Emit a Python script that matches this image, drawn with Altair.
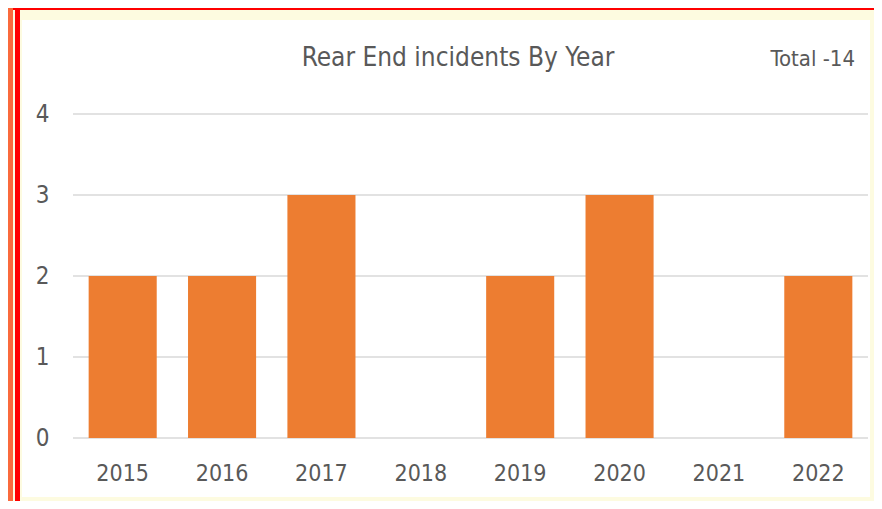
import altair as alt
import pandas as pd

years = ["2015", "2016", "2017", "2018", "2019", "2020", "2021", "2022"]
counts = [2, 2, 3, 0, 2, 3, 0, 2]
grid_values = [0, 1, 2, 3, 4]
title_text = "Rear End incidents By Year"
total_text = "Total -14"

FONT = "Liberation Sans Narrow, DejaVu Sans Condensed, Roboto, sans-serif"
TXT = "#595959"
W, H = 795, 324

df = pd.DataFrame({"year": years, "count": counts})
one = pd.DataFrame({"a": [0]})

def rect(x, x2, y, y2, color):
    return alt.Chart(one).mark_rect(color=color).encode(
        x=alt.value(x), x2=alt.value(x2), y=alt.value(y), y2=alt.value(y2)
    )

frame = alt.layer(
    rect(-51, W + 2, -94, H + 59, "#FFFFFF"),
    rect(-66, W + 10, -110, -104, "#FF0000"),
    rect(-65, -60, -110, H + 70, "#FA6A3C"),
    rect(-58, -53, -110, H + 70, "#FF0000"),
)

ysc = alt.Scale(domain=[0, 4], nice=False)
yaxis = alt.Axis(values=grid_values, format="d", domain=False, ticks=False, grid=False,
                 labelFont=FONT, labelFontSize=24, labelColor=TXT, labelPadding=24,
                 zindex=1, title=None)

grid = alt.Chart(pd.DataFrame({"g": grid_values})).mark_rule(
    color="#D9D9D9", strokeWidth=1.5
).encode(
    y=alt.Y("g:Q", scale=ysc, axis=yaxis),
    x=alt.value(0), x2=alt.value(W),
)

bars = alt.Chart(df).mark_bar(color="#ED7D31").encode(
    x=alt.X("year:N", sort=years, scale=alt.Scale(paddingInner=0.315, paddingOuter=0.1575),
            axis=alt.Axis(labelAngle=0, domain=False, ticks=False, grid=False,
                          labelFont=FONT, labelFontSize=23, labelColor=TXT,
                          labelPadding=24, zindex=1, title=None)),
    y=alt.Y("count:Q", scale=ysc, axis=yaxis),
)

title = alt.Chart(pd.DataFrame({"t": [title_text]})).mark_text(
    font=FONT, fontSize=26, color=TXT, align="center", baseline="alphabetic"
).encode(text="t:N", x=alt.value(385), y=alt.value(-48))

total = alt.Chart(pd.DataFrame({"t": [total_text]})).mark_text(
    font=FONT, fontSize=22, color=TXT, align="right", baseline="alphabetic"
).encode(text="t:N", x=alt.value(782), y=alt.value(-48))

chart = alt.layer(frame, grid, bars, title, total).properties(
    width=W, height=H,
    padding={"left": 65, "right": 6, "top": 106, "bottom": 63},
    autosize=alt.AutoSizeParams(type="none"),
    background="#FDFBE0",
).configure_view(stroke=None)

chart.save("out.html", embed_options={"renderer": "svg", "actions": False})
